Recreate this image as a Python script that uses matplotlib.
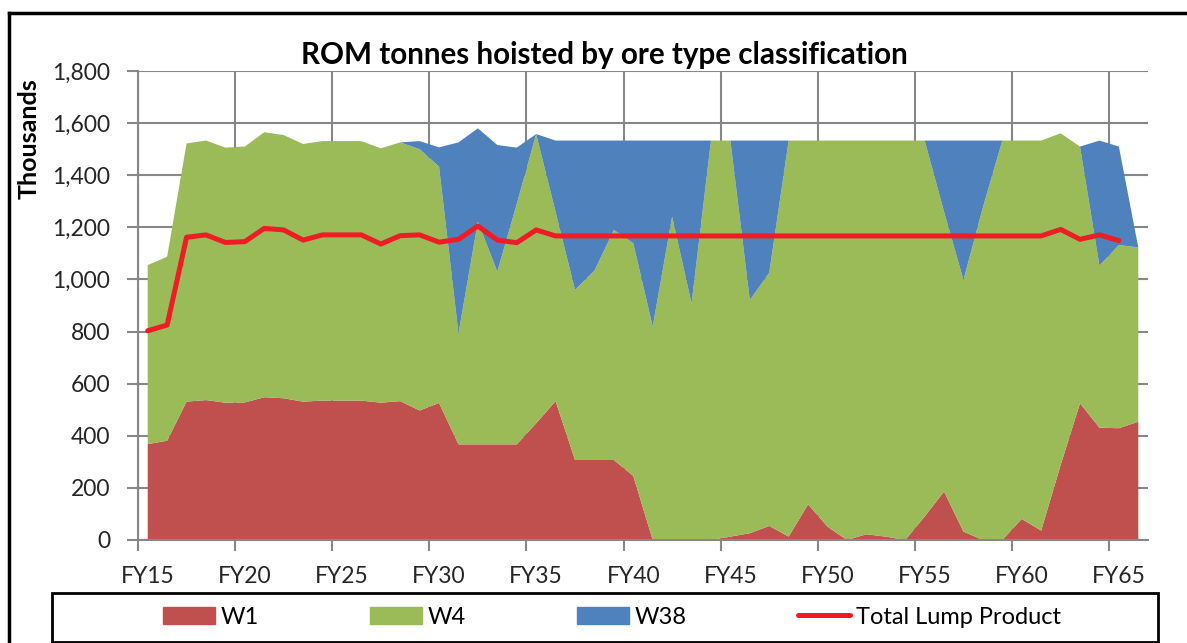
import numpy as np
import matplotlib
matplotlib.use('Agg')
import matplotlib.pyplot as plt
from matplotlib.patches import Patch, Rectangle
from matplotlib.lines import Line2D

plt.rcParams['font.family'] = ['Lato', 'DejaVu Sans']

# === Data (thousand tonnes per financial year) ===
years = [f"FY{y}" for y in range(15, 67)]
w1 = [368, 381, 531, 537, 527, 528, 548, 544, 531, 535,
      535, 535, 527, 533, 497, 526, 367, 367, 367, 367,
      448, 533, 307, 307, 307, 246, 0, 0, 0, 0,
      13, 26, 54, 13, 137, 51, 0, 22, 13, 0,
      90, 186, 32, 0, 0, 81, 36, 287, 525, 431,
      429, 454]
w4 = [687, 706, 991, 996, 979, 982, 1017, 1010, 989, 996,
      996, 996, 976, 993, 1003, 907, 426, 855, 663, 923,
      1110, 726, 653, 727, 883, 893, 819, 1241, 908, 1533,
      1520, 895, 972, 1520, 1396, 1482, 1533, 1511, 1520, 1533,
      1443, 1074, 966, 1277, 1533, 1452, 1497, 1274, 985, 622,
      703, 669]
w38 = [0, 0, 0, 0, 0, 0, 0, 0, 0, 0,
       0, 0, 0, 0, 31, 74, 733, 358, 486, 216,
       0, 274, 573, 499, 343, 394, 714, 292, 625, 0,
       0, 612, 507, 0, 0, 0, 0, 0, 0, 0,
       0, 273, 535, 256, 0, 0, 0, 0, 0, 480,
       378, 0]
lump = [803, 825, 1162, 1171, 1142, 1145, 1196, 1190, 1151, 1171,
        1171, 1171, 1136, 1168, 1171, 1143, 1154, 1205, 1151, 1141,
        1190, 1167, 1167, 1167, 1167, 1167, 1167, 1167, 1167, 1167,
        1167, 1167, 1167, 1167, 1167, 1167, 1167, 1167, 1167, 1167,
        1167, 1167, 1167, 1167, 1167, 1167, 1167, 1192, 1154, 1171,
        1149, np.nan]

c_w1, c_w4, c_w38, c_lump = '#C0504D', '#9BBB59', '#4F81BD', '#EE1C25'
grid_c = '#878787'

x = np.arange(len(years))

fig = plt.figure(figsize=(11.87, 6.43), dpi=100)
ax = fig.add_axes([138 / 1187, 103 / 643, 1010 / 1187, 469 / 643])

# === Vẽ stacked area + line ===
ax.stackplot(x, w1, w4, w38, colors=[c_w1, c_w4, c_w38], linewidth=0, zorder=2)
ax.plot(x, lump, color=c_lump, lw=3.6, solid_capstyle='round', zorder=3)

ax.set_xlim(-0.5, len(years) - 0.5)
ax.set_ylim(0, 1800)
ax.set_yticks(range(0, 1801, 200))
ax.set_yticklabels([f"{v:,}" for v in range(0, 1801, 200)])
ax.set_xticks(x[::5])
ax.set_xticklabels(years[::5])
ax.set_xticks(np.arange(-0.5, len(years) - 1, 5), minor=True)

ax.tick_params(axis='x', which='major', length=0, pad=19, labelsize=16.5, colors='#262626')
ax.tick_params(axis='x', which='minor', length=8, width=1.5, color=grid_c)
ax.tick_params(axis='y', length=8, width=1.5, color=grid_c, pad=12, labelsize=16.5, labelcolor='#262626')

ax.grid(axis='y', color=grid_c, lw=1.5, zorder=0)
ax.grid(axis='x', which='minor', color=grid_c, lw=1.5, zorder=0)
for side in ['top', 'right']:
    ax.spines[side].set_visible(False)
for side in ['left', 'bottom']:
    ax.spines[side].set_color(grid_c)
    ax.spines[side].set_linewidth(1.5)
    ax.spines[side].set_zorder(4)

fig.text(604 / 1187, 1 - 55 / 643, 'ROM tonnes hoisted by ore type classification',
         ha='center', va='center', fontsize=21.3, fontweight='bold')
fig.text(29 / 1187, 1 - 139 / 643, 'Thousands', rotation=90,
         ha='center', va='center', fontsize=18, fontweight='bold')

# === Legend trong khung riêng ===
handles = [Patch(color=c_w1), Patch(color=c_w4), Patch(color=c_w38),
           Line2D([], [], color=c_lump, lw=3.6, solid_capstyle='round')]
labels = ['W1', 'W4', 'W38', 'Total Lump Product']
fig.legend(handles, labels, loc='center', bbox_to_anchor=(612 / 1187, 1 - 617 / 643),
           ncol=4, frameon=False, fontsize=17, handlelength=2.2, handleheight=0.7,
           handletextpad=0.25, columnspacing=4.7)
fig.add_artist(Rectangle((52 / 1187, 1 - 642 / 643), 1106 / 1187, 49 / 643,
                         transform=fig.transFigure, fill=False, ec='black', lw=2))

# khung ngoài của chart
fig.add_artist(Line2D([9 / 1187, 1], [1 - 13 / 643] * 2, transform=fig.transFigure, color='black', lw=2.5))
fig.add_artist(Line2D([9 / 1187] * 2, [0, 1 - 13 / 643], transform=fig.transFigure, color='black', lw=2.5))

plt.savefig('out.png', dpi=100)
plt.close()
